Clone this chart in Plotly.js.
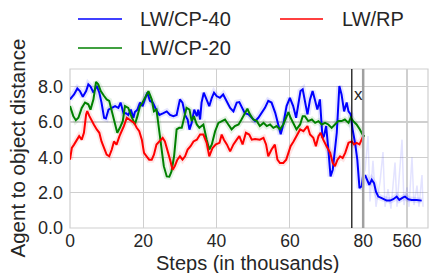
<!DOCTYPE html>
<html><head><meta charset="utf-8">
<script src="https://cdn.plot.ly/plotly-3.0.1.min.js"></script>
<style>html,body{margin:0;padding:0;background:#fff;}#chart{width:433px;height:273px;}</style>
</head><body><div id="chart"></div>
<script>
// ---- data (steps in thousands, agent-to-object distance) ----
const seriesNames = ['LW/CP-40', 'LW/CP-20', 'LW/RP'];
const seriesColors = ['#0000ff', '#008000', '#ff0000'];

const cp40Steps = [0,1.1,2,2.7,3.5,4.4,5,5.6,6.4,7.3,8,8.6,9.3,9.8,10.5,11.4,12.3,13.2,13.8,14.6,15.3,15.9,16.6,17.3,17.7,18.4,19.1,19.8,20.5,21.1,21.8,22.6,23.5,24.4,25.5,26.4,27.3,28.2,29.1,30,30.7,31.4,32.1,32.6,33.2,33.9,34.6,35,35.5,35.9,36.5,37.3,38,38.7,39.3,40,40.9,41.8,42.7,43.7,44.6,45.5,46.2,46.8,47.7,48.7,49.6,50.5,51.4,52.3,53.2,54.1,55,56,56.9,57.5,58.2,59.1,60,60.9,61.7,62.3,62.9,63.5,64.1,64.8,65.5,66.2,66.9,67.5,68.2,68.9,69.3,69.9,70.5,71.1,71.7,72.3,72.8,73.5,74.1,74.8,75.5,76,76.6,77.1,77.8,78.4,79,79.6,80];
const cp40Vals = [7.28,7.56,7.9,7.75,7.43,7.75,8.13,8.0,7.66,8.04,7.66,7.1,6.24,6.2,6.7,6.8,6.9,6.8,7.1,6.5,6.5,6.4,6.7,6.24,6.56,6.7,7.1,6.9,7.28,7.66,7.2,7.1,6.7,6.4,6.5,6.6,6.4,6.33,6.4,7.28,7.1,6.4,6.14,5.57,5.95,6.7,6.33,6.7,6.14,7.1,7.66,7.28,6.9,7.37,7.66,7.47,7.37,7.56,7.2,6.8,6.6,7.1,7.13,6.9,6.5,6.43,6.24,6.05,6.24,6.52,6.8,7.2,7.1,6.52,5.77,5.3,5.86,6.9,7.37,6.9,6.24,6.9,7.75,7.85,7.1,6.43,7.28,7.75,7.2,6.7,7.28,5.1,5.2,5.77,4.44,2.92,3.3,4.6,5.39,8.04,7.56,6.6,7.1,6.6,6.43,5.6,4.8,3.87,2.26,2.36,3.02];

// after the axis break (long run)
const cp40TailSteps = [500,503.3,506.1,509.6,512.9,515.7,519,523.9,531,535.7,540.4,545.3,549,553.9,557.1,561.9,566.7,573.9,581];
const cp40TailVals = [3.0,2.63,2.44,2.73,2.54,2.06,1.78,1.69,1.55,1.55,1.63,1.78,1.59,1.72,1.78,1.63,1.59,1.59,1.55];
const cp40TailRawSteps = [500,504.3,507.1,511.4,515.7,521.4,525.7,528.6,532.9,537.1,542.9,545.7,552.9,555.7,560,562.9,567.1,570,574.3,577.1,581.4,582.9];
const cp40TailRawVals = [3.2,5.2,1.5,3.8,1.2,2.6,4.3,1.2,2.2,1.1,3.7,1.2,5.0,1.3,2.3,1.2,4.0,1.3,2.4,1.2,3.0,1.2];

const cp20Steps = [0,0.9,1.6,2.3,3.2,4.1,5,5.6,6.4,7.1,7.7,8.4,9.3,10,10.7,11.4,12.3,12.9,13.6,14.4,15,15.9,16.6,17.1,17.7,18.4,19.1,19.8,20.5,21.4,22.3,22.9,23.6,24.4,25,25.6,26.4,27.1,27.7,28.4,29.1,29.8,30.5,31.1,31.8,32.6,33.2,33.8,34.6,35.3,36.4,37.3,38,38.7,39.6,40.5,41.4,42.3,43.2,44.1,45,46,46.8,47.7,48.4,49.1,50,51,51.8,52.8,53.7,54.6,55.5,56.4,57.3,58.2,59,59.6,60.2,61,61.8,62.8,63.5,64.1,65,66,66.9,67.8,68.7,69.6,70.5,71.4,72.3,73.2,74.1,75,76,76.6,77.3,78.2,79.1,80,80.5];
const cp20Vals = [6.9,6.33,6.1,6.24,6.8,7.1,7.0,6.7,7.28,8.27,8.13,7.75,7.47,7.28,7.2,6.6,5.86,5.39,5.67,6.05,6.9,6.8,6.4,6.14,5.86,6.33,6.9,7.1,7.37,7.75,7.28,6.6,6.7,5.39,4.44,3.5,2.92,2.9,3.2,4.06,5.58,5.67,5.67,6.24,6.8,6.7,6.05,6.33,5.86,5.67,5.86,5.0,4.44,4.73,5.48,5.95,6.05,6.14,5.86,5.58,5.77,5.86,6.14,6.52,6.75,6.43,6.14,6.05,5.77,5.95,5.77,5.86,5.67,5.77,5.58,5.86,6.24,6.56,6.24,5.95,5.58,5.86,6.33,6.33,6.05,6.14,5.95,6.05,5.86,5.95,5.86,5.67,5.86,6.05,6.05,6.14,5.95,6.24,6.05,5.86,5.58,5.23,5.2];

const rpSteps = [0,0.5,1.1,1.8,2.5,3.2,3.8,4.4,4.7,5.3,5.9,6.5,7.3,8,8.6,9.3,10,10.7,11.4,12,12.7,13.5,14.1,14.7,15.5,16.2,16.8,17.5,18.2,18.9,19.6,20.2,20.9,21.6,22.3,22.9,23.6,24.4,25.3,25.9,26.6,27.3,28,28.6,29.3,30,30.7,31.4,32.1,32.9,33.7,34.6,35.5,36.4,37.3,38,38.9,39.8,40.8,41.4,42,42.8,43.7,44.6,45.5,46.2,47.1,48,48.9,49.6,50.5,51.8,52.8,53.5,54.1,55,55.9,56.6,57.3,58.2,59,59.6,60.2,61,61.8,62.8,63.7,64.4,64.8,65.5,66.4,67.1,67.8,68.4,69.1,70,71,71.7,72.3,73,73.7,74.4,75.1,76,76.9,77.5,78.2,79,79.6,80];
const rpVals = [3.87,4.53,4.72,5.0,5.2,5.0,5.39,6.43,6.62,6.33,6.05,5.86,5.58,5.39,4.9,4.53,4.15,4.06,4.44,4.9,4.72,5.2,5.48,5.77,6.24,6.14,6.05,5.95,5.67,5.48,5.0,4.25,4.06,3.87,3.87,4.15,4.72,4.9,5.1,4.9,4.44,3.87,3.3,3.5,3.87,4.06,3.87,4.06,4.44,4.63,4.9,5.0,5.29,5.29,4.82,4.06,4.53,4.73,4.82,5.29,5.0,4.73,4.34,4.73,5.0,5.2,4.73,5.39,5.29,5.0,5.04,5.0,5.1,4.73,4.06,4.44,4.72,3.87,3.68,3.68,3.87,4.25,4.63,4.9,5.2,5.58,5.48,5.67,5.77,5.29,5.1,4.63,5.2,5.39,5.0,4.63,4.25,3.68,3.5,3.87,4.06,3.96,4.25,4.82,4.9,4.73,4.82,4.73,5.0,5.2];

const markerStep = 76.9;      // vertical black marker
const breakStep = 80;         // axis break
const xTickVals = [0, 20, 40, 60, 80];
const xTickText = ['0', '20', '40', '60', '80'];
const x2TickVals = [560];
const x2TickText = ['560'];
const yTickVals = [0, 2, 4, 6, 8];
const yTickText = ['0.0', '2.0', '4.0', '6.0', '8.0'];

// ---- chart ----
const FONT = 'Liberation Sans, Arial, sans-serif';
const TXT = '#262626';
const GRID = '#cfcfcf';

function halo(x, y, color, xa) {
  return {x: x, y: y, xaxis: xa, yaxis: 'y', mode: 'lines', showlegend: false, hoverinfo: 'skip',
    line: {color: color, width: 6}, opacity: 0.1};
}
function main(x, y, color, xa, name) {
  return {x: x, y: y, xaxis: xa, yaxis: 'y', mode: 'lines', name: name, showlegend: false,
    line: {color: color, width: 2}};
}

const traces = [
  halo(cp40Steps, cp40Vals, seriesColors[0], 'x'),
  halo(cp20Steps, cp20Vals, seriesColors[1], 'x'),
  halo(rpSteps, rpVals, seriesColors[2], 'x'),
  {x: cp40TailRawSteps, y: cp40TailRawVals, xaxis: 'x2', yaxis: 'y', mode: 'lines', showlegend: false,
    hoverinfo: 'skip', line: {color: 'rgba(70,70,255,0.15)', width: 1.5}},
  halo(cp40TailSteps, cp40TailVals, seriesColors[0], 'x2'),
  main(cp40Steps, cp40Vals, seriesColors[0], 'x', seriesNames[0]),
  main(cp40TailSteps, cp40TailVals, seriesColors[0], 'x2', seriesNames[0]),
  main(cp20Steps, cp20Vals, seriesColors[1], 'x', seriesNames[1]),
  main(rpSteps, rpVals, seriesColors[2], 'x', seriesNames[2])
];

const L = 70, R = 428, T = 69, B = 228;
const W = R - L, H = B - T;
const px2p = px => (px - L) / W;
const py2p = py => (B - py) / H;
const split = px2p(365);

const shapes = [
  {type: 'rect', xref: 'paper', yref: 'paper', x0: 0, x1: 1, y0: 0, y1: 1, line: {color: GRID, width: 1.2}, layer: 'below'},
  {type: 'line', xref: 'x', yref: 'paper', x0: breakStep, x1: breakStep, y0: 0, y1: 1, line: {color: '#a0a0a0', width: 2.5}},
  {type: 'line', xref: 'x', yref: 'paper', x0: markerStep, x1: markerStep, y0: 0, y1: 1, line: {color: '#000000', width: 1.2}}
];
const annotations = [
  {xref: 'x', yref: 'y', x: 78.6, y: 7.55, text: 'x', showarrow: false, font: {family: FONT, size: 17, color: TXT}},
  {xref: 'paper', yref: 'paper', x: px2p(247), y: py2p(250), text: 'Steps (in thousands)', showarrow: false,
    xanchor: 'center', yanchor: 'top', font: {family: FONT, size: 20, color: TXT}},
  {xref: 'paper', yref: 'paper', x: px2p(17), y: 0.5, text: 'Agent to object distance', textangle: -90, showarrow: false,
    xanchor: 'center', yanchor: 'middle', font: {family: FONT, size: 20.5, color: TXT}}
];
// legend (two columns, matplotlib style)
const legendPos = [
  {lx0: 78, lx1: 122, tx: 138, py: 19},
  {lx0: 78, lx1: 122, tx: 138, py: 48},
  {lx0: 280, lx1: 323, tx: 340, py: 19}
];
legendPos.forEach((p, i) => {
  shapes.push({type: 'line', xref: 'paper', yref: 'paper', x0: px2p(p.lx0), x1: px2p(p.lx1), y0: py2p(p.py), y1: py2p(p.py),
    line: {color: seriesColors[i], width: 1.6}});
  annotations.push({xref: 'paper', yref: 'paper', x: px2p(p.tx), y: py2p(p.py), text: seriesNames[i], showarrow: false,
    xanchor: 'left', yanchor: 'middle', font: {family: FONT, size: 20, color: TXT}});
});

const layout = {
  width: 433, height: 273,
  margin: {l: L, r: 433 - R, t: T, b: 273 - B},
  paper_bgcolor: '#ffffff', plot_bgcolor: '#ffffff',
  showlegend: false,
  font: {family: FONT, color: TXT},
  xaxis: {domain: [0, split], range: [0, 80.5], tickvals: xTickVals, ticktext: xTickText,
    showgrid: true, gridcolor: GRID, gridwidth: 1.2, zeroline: false, showline: false, ticks: '',
    tickfont: {family: FONT, size: 17.5, color: TXT}, ticklabelstandoff: 0, anchor: 'y'},
  xaxis2: {domain: [split, 1], range: [500, 590], tickvals: x2TickVals, ticktext: x2TickText,
    showgrid: true, gridcolor: GRID, gridwidth: 1.2, zeroline: false, showline: false, ticks: '',
    tickfont: {family: FONT, size: 17.5, color: TXT}, ticklabelstandoff: 0, anchor: 'y'},
  yaxis: {range: [0, 9], tickvals: yTickVals, ticktext: yTickText, showgrid: true, gridcolor: GRID, gridwidth: 1.2,
    zeroline: false, showline: false, ticks: '', ticklabelstandoff: 6,
    tickfont: {family: FONT, size: 18, color: TXT}, anchor: 'x'},
  shapes: shapes,
  annotations: annotations
};

Plotly.newPlot('chart', traces, layout, {staticPlot: true, displayModeBar: false});
</script></body></html>
